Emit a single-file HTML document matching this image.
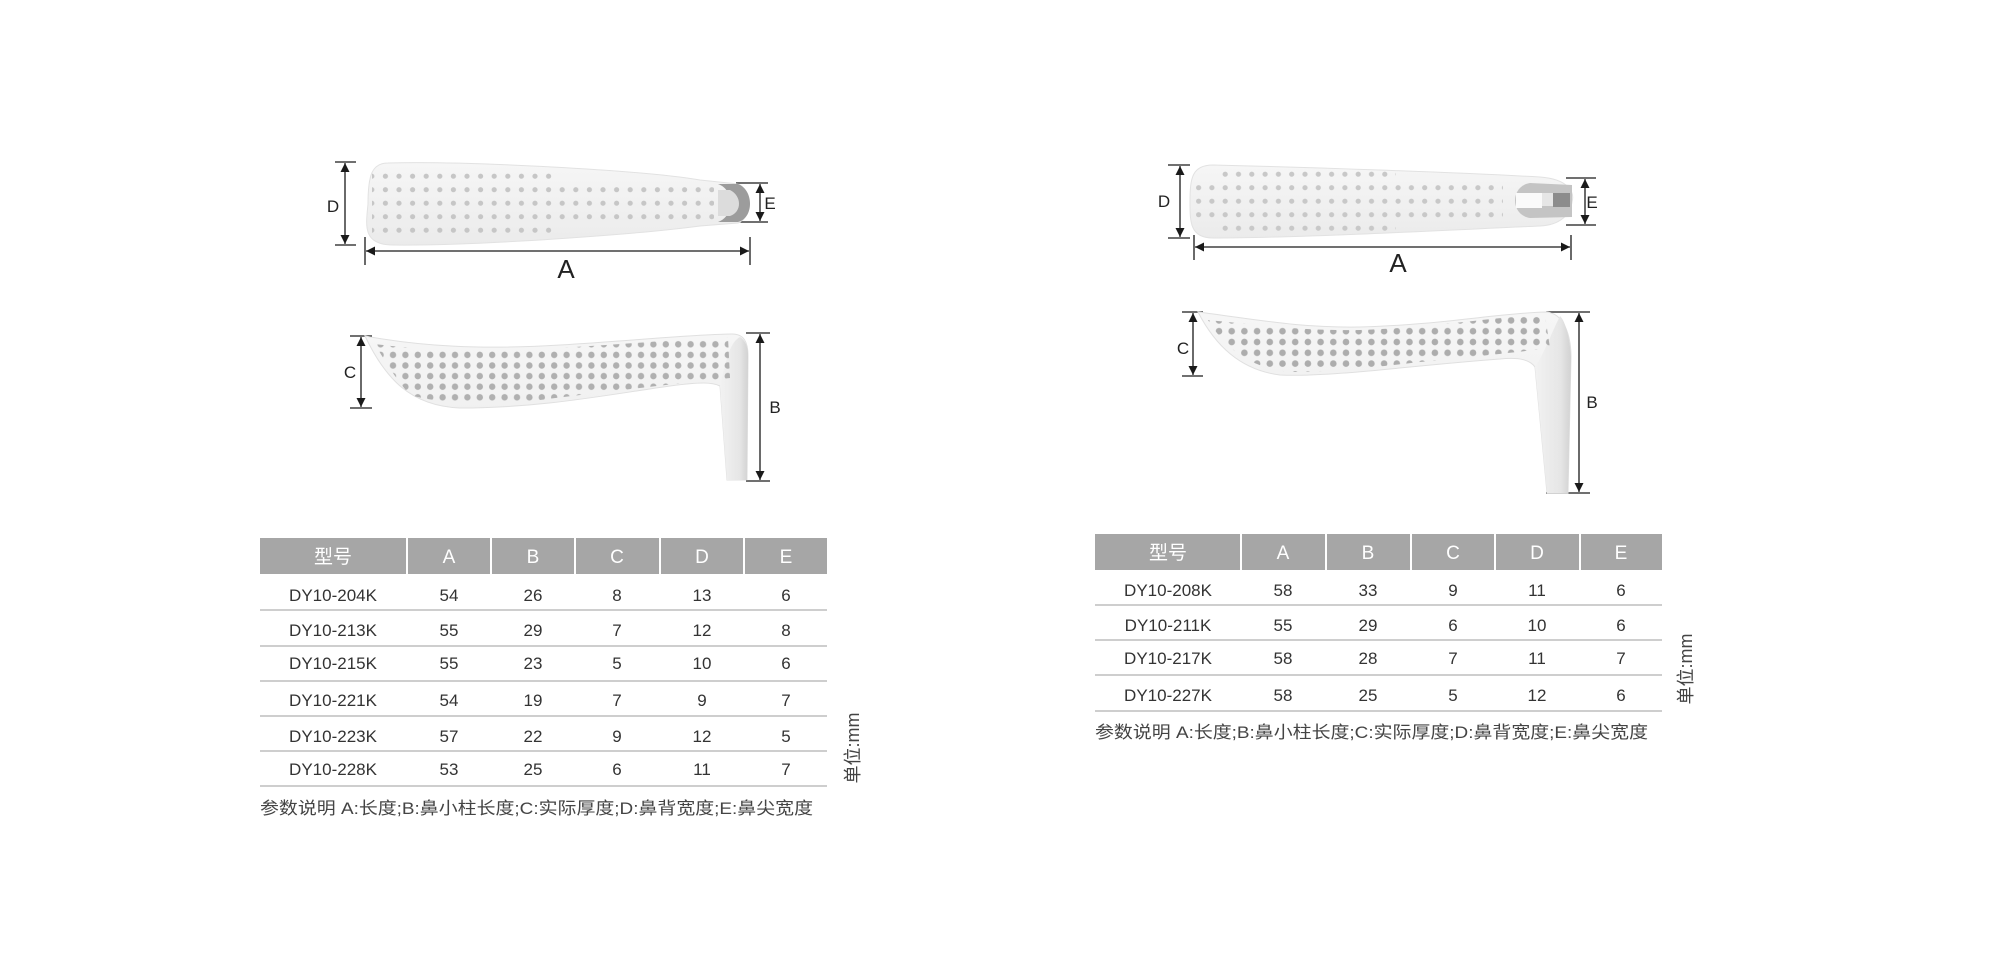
<!DOCTYPE html>
<html><head><meta charset="utf-8"><style>
html,body{margin:0;padding:0;background:#fff;}
svg{display:block;}
text{font-family:"Liberation Sans","Noto Sans CJK SC",sans-serif;}
</style></head><body>
<svg width="2000" height="960" viewBox="0 0 2000 960" xmlns="http://www.w3.org/2000/svg">
<defs>
<marker id="ah" viewBox="0 0 10 10" refX="10" refY="5" markerWidth="9" markerHeight="9" markerUnits="userSpaceOnUse" orient="auto-start-reverse"><path d="M0,0 L10,5 L0,10 z" fill="#1a1a1a"/></marker>
<linearGradient id="gb" x1="0" y1="0" x2="0" y2="1"><stop offset="0" stop-color="#f6f6f6"/><stop offset="1" stop-color="#ebebeb"/></linearGradient>
<linearGradient id="gl" x1="0" y1="0" x2="1" y2="0"><stop offset="0" stop-color="#f2f2f2"/><stop offset="0.7" stop-color="#e6e6e6"/><stop offset="1" stop-color="#d2d2d2"/></linearGradient>
<pattern id="pd" x="365" y="169.5" width="13.6" height="13.5" patternUnits="userSpaceOnUse"><circle cx="6.8" cy="6.7" r="2.6" fill="#c6c6c6"/></pattern>
<pattern id="pd2" x="1192" y="167.5" width="13.3" height="13.5" patternUnits="userSpaceOnUse"><circle cx="6.6" cy="6.7" r="2.6" fill="#c8c8c8"/></pattern>
<pattern id="ps" x="362" y="339" width="12.4" height="10.6" patternUnits="userSpaceOnUse"><circle cx="6.2" cy="5.3" r="3.2" fill="#b0b0b0"/></pattern>
<pattern id="ps2" x="1200" y="315" width="12.7" height="10.8" patternUnits="userSpaceOnUse"><circle cx="6.3" cy="5.4" r="3.3" fill="#adadad"/></pattern>
<clipPath id="c1"><rect x="372" y="170" width="182" height="67"/><rect x="554" y="183" width="160" height="41"/></clipPath>
<clipPath id="c2"><rect x="1216" y="168" width="180" height="67"/><rect x="1196" y="181" width="307" height="41"/></clipPath>
</defs>
<g stroke="#1a1a1a" stroke-width="1.3" fill="none">
<line x1="345" y1="163" x2="345" y2="244" marker-start="url(#ah)" marker-end="url(#ah)"/>
<line x1="335" y1="162" x2="356" y2="162"/><line x1="335" y1="245" x2="356" y2="245"/>
<line x1="366" y1="251" x2="749" y2="251" marker-start="url(#ah)" marker-end="url(#ah)"/>
<line x1="365" y1="237" x2="365" y2="265"/><line x1="750" y1="237" x2="750" y2="265"/>
<line x1="760" y1="184" x2="760" y2="221" marker-start="url(#ah)" marker-end="url(#ah)"/>
<line x1="736" y1="183" x2="768" y2="183"/><line x1="736" y1="222" x2="768" y2="222"/>
<line x1="361" y1="337" x2="361" y2="407" marker-start="url(#ah)" marker-end="url(#ah)"/>
<line x1="350" y1="336" x2="372" y2="336"/><line x1="350" y1="408" x2="372" y2="408"/>
<line x1="760" y1="334" x2="760" y2="480" marker-start="url(#ah)" marker-end="url(#ah)"/>
<line x1="746" y1="333" x2="770" y2="333"/><line x1="746" y1="481" x2="770" y2="481"/>
<line x1="1180" y1="166" x2="1180" y2="237" marker-start="url(#ah)" marker-end="url(#ah)"/>
<line x1="1168" y1="165" x2="1190" y2="165"/><line x1="1168" y1="238" x2="1190" y2="238"/>
<line x1="1195" y1="247" x2="1570" y2="247" marker-start="url(#ah)" marker-end="url(#ah)"/>
<line x1="1194" y1="235" x2="1194" y2="260"/><line x1="1571" y1="235" x2="1571" y2="260"/>
<line x1="1585" y1="179" x2="1585" y2="224" marker-start="url(#ah)" marker-end="url(#ah)"/>
<line x1="1566" y1="178" x2="1596" y2="178"/><line x1="1566" y1="225" x2="1596" y2="225"/>
<line x1="1193" y1="313" x2="1193" y2="375" marker-start="url(#ah)" marker-end="url(#ah)"/>
<line x1="1182" y1="312" x2="1203" y2="312"/><line x1="1182" y1="376" x2="1203" y2="376"/>
<line x1="1579" y1="313" x2="1579" y2="492" marker-start="url(#ah)" marker-end="url(#ah)"/>
<line x1="1546" y1="312" x2="1590" y2="312"/><line x1="1546" y1="493" x2="1590" y2="493"/>
</g>
<g fill="#222" font-size="17">
<text x="333" y="212" text-anchor="middle">D</text>
<text x="770" y="209" text-anchor="middle">E</text>
<text x="566" y="278" text-anchor="middle" font-size="26">A</text>
<text x="350" y="378" text-anchor="middle">C</text>
<text x="775" y="413" text-anchor="middle">B</text>
<text x="1164" y="207" text-anchor="middle">D</text>
<text x="1592" y="208" text-anchor="middle">E</text>
<text x="1398" y="272" text-anchor="middle" font-size="26">A</text>
<text x="1183" y="354" text-anchor="middle">C</text>
<text x="1592" y="408" text-anchor="middle">B</text>
</g>
<!-- left top shape -->
<path d="M388,163 C470,161 640,170 700,180 L738,184 C752,190 752,218 738,223 L700,226 C640,234 480,246 393,245 C362,245 366,225 368,204 C368,175 372,163 388,163 Z" fill="url(#gb)" stroke="#e2e2e2"/>
<rect x="365" y="165" width="360" height="80" fill="url(#pd)" clip-path="url(#c1)"/>
<path d="M718,184 L738,184 C754,190 754,218 738,222 L718,222 C735,216 735,190 718,184 Z" fill="#9c9c9c"/>
<path d="M718,190 L730,190 C742,196 742,212 730,216 L718,216 Z" fill="#dcdcdc"/>
<!-- left side shape -->
<path d="M365,336 C420,346 480,350 560,345 C640,340 700,334 732,334 C744,334 748,342 748,356 L747,480 L727,480 L720,386 C712,382 700,382 670,386 C600,396 540,408 460,408 C410,406 385,378 365,336 Z" fill="url(#gb)" stroke="#e0e0e0"/>
<path d="M720,386 L727,480 L747,480 L748,356 C748,346 745,340 740,337 C730,342 726,360 720,386 Z" fill="url(#gl)"/>
<path d="M375,344 C420,350 480,352 560,348 C640,343 700,338 728,337 L730,378 C700,381 620,390 540,400 C490,405 440,404 410,395 C395,378 384,360 375,344 Z" fill="url(#ps)"/>
<!-- right top shape -->
<path d="M1213,165 C1300,167 1450,172 1540,177 C1568,179 1575,192 1572,202 C1570,215 1560,225 1540,226 C1450,230 1300,238 1213,238 C1190,238 1190,222 1190,202 C1190,178 1192,165 1213,165 Z" fill="url(#gb)" stroke="#e2e2e2"/>
<rect x="1190" y="165" width="320" height="75" fill="url(#pd2)" clip-path="url(#c2)"/>
<path d="M1530,183 L1572,185 L1572,217 L1530,218 C1510,215 1510,186 1530,183 Z" fill="#c4c4c4"/>
<rect x="1516" y="193" width="26" height="15" fill="#fafafa"/>
<rect x="1542" y="193" width="11" height="13" fill="#e6e6e6"/>
<rect x="1553" y="193" width="17" height="14" fill="#8c8c8c"/>
<!-- right side shape -->
<path d="M1198,312 C1260,320 1300,328 1360,327 C1440,325 1500,313 1546,312 C1565,313 1571,338 1571,357 L1568,493 L1547,493 L1535,367 C1530,360 1520,357 1500,359 C1460,362 1420,366 1390,369 C1340,374 1300,376 1280,375 C1240,370 1215,345 1198,312 Z" fill="url(#gb)" stroke="#e0e0e0"/>
<path d="M1535,367 L1547,493 L1568,493 L1571,357 C1570,340 1566,322 1560,316 C1550,336 1545,352 1535,367 Z" fill="url(#gl)"/>
<path d="M1208,320 C1260,325 1300,331 1360,330 C1440,327 1500,316 1545,315 L1550,348 C1520,352 1470,357 1420,362 C1360,369 1320,372 1290,372 C1250,368 1225,348 1208,320 Z" fill="url(#ps2)"/>
<!-- left table -->
<rect x="260" y="538" width="567" height="36" fill="#a6a6a6"/>
<g stroke="#fff" stroke-width="2"><line x1="407" y1="538" x2="407" y2="574"/><line x1="491" y1="538" x2="491" y2="574"/><line x1="575" y1="538" x2="575" y2="574"/><line x1="660" y1="538" x2="660" y2="574"/><line x1="744" y1="538" x2="744" y2="574"/></g>
<g stroke="#bdbdbd" stroke-width="1.5"><line x1="260" y1="610" x2="827" y2="610"/><line x1="260" y1="646" x2="827" y2="646"/><line x1="260" y1="681" x2="827" y2="681"/><line x1="260" y1="716" x2="827" y2="716"/><line x1="260" y1="751" x2="827" y2="751"/><line x1="260" y1="786" x2="827" y2="786"/></g>
<g fill="#fff" font-size="19" text-anchor="middle"><text x="333" y="563">型号</text><text x="449" y="563">A</text><text x="533" y="563">B</text><text x="617" y="563">C</text><text x="702" y="563">D</text><text x="786" y="563">E</text></g>
<g fill="#333" font-size="17" text-anchor="middle">
<text x="333" y="601">DY10-204K</text><text x="449" y="601">54</text><text x="533" y="601">26</text><text x="617" y="601">8</text><text x="702" y="601">13</text><text x="786" y="601">6</text>
<text x="333" y="636">DY10-213K</text><text x="449" y="636">55</text><text x="533" y="636">29</text><text x="617" y="636">7</text><text x="702" y="636">12</text><text x="786" y="636">8</text>
<text x="333" y="669">DY10-215K</text><text x="449" y="669">55</text><text x="533" y="669">23</text><text x="617" y="669">5</text><text x="702" y="669">10</text><text x="786" y="669">6</text>
<text x="333" y="706">DY10-221K</text><text x="449" y="706">54</text><text x="533" y="706">19</text><text x="617" y="706">7</text><text x="702" y="706">9</text><text x="786" y="706">7</text>
<text x="333" y="742">DY10-223K</text><text x="449" y="742">57</text><text x="533" y="742">22</text><text x="617" y="742">9</text><text x="702" y="742">12</text><text x="786" y="742">5</text>
<text x="333" y="775">DY10-228K</text><text x="449" y="775">53</text><text x="533" y="775">25</text><text x="617" y="775">6</text><text x="702" y="775">11</text><text x="786" y="775">7</text>
</g>
<text x="260" y="814" fill="#444" font-size="17" textLength="553" lengthAdjust="spacingAndGlyphs">参数说明 A:长度;B:鼻小柱长度;C:实际厚度;D:鼻背宽度;E:鼻尖宽度</text>
<text transform="translate(859,748) rotate(-90)" fill="#444" font-size="18" text-anchor="middle">单位:mm</text>
<!-- right table -->
<rect x="1095" y="534" width="567" height="36" fill="#a6a6a6"/>
<g stroke="#fff" stroke-width="2"><line x1="1241" y1="534" x2="1241" y2="570"/><line x1="1326" y1="534" x2="1326" y2="570"/><line x1="1411" y1="534" x2="1411" y2="570"/><line x1="1495" y1="534" x2="1495" y2="570"/><line x1="1580" y1="534" x2="1580" y2="570"/></g>
<g stroke="#bdbdbd" stroke-width="1.5"><line x1="1095" y1="605" x2="1662" y2="605"/><line x1="1095" y1="640" x2="1662" y2="640"/><line x1="1095" y1="675" x2="1662" y2="675"/><line x1="1095" y1="711" x2="1662" y2="711"/></g>
<g fill="#fff" font-size="19" text-anchor="middle"><text x="1168" y="559">型号</text><text x="1283" y="559">A</text><text x="1368" y="559">B</text><text x="1453" y="559">C</text><text x="1537" y="559">D</text><text x="1621" y="559">E</text></g>
<g fill="#333" font-size="17" text-anchor="middle">
<text x="1168" y="596">DY10-208K</text><text x="1283" y="596">58</text><text x="1368" y="596">33</text><text x="1453" y="596">9</text><text x="1537" y="596">11</text><text x="1621" y="596">6</text>
<text x="1168" y="631">DY10-211K</text><text x="1283" y="631">55</text><text x="1368" y="631">29</text><text x="1453" y="631">6</text><text x="1537" y="631">10</text><text x="1621" y="631">6</text>
<text x="1168" y="664">DY10-217K</text><text x="1283" y="664">58</text><text x="1368" y="664">28</text><text x="1453" y="664">7</text><text x="1537" y="664">11</text><text x="1621" y="664">7</text>
<text x="1168" y="701">DY10-227K</text><text x="1283" y="701">58</text><text x="1368" y="701">25</text><text x="1453" y="701">5</text><text x="1537" y="701">12</text><text x="1621" y="701">6</text>
</g>
<text x="1095" y="738" fill="#444" font-size="17" textLength="553" lengthAdjust="spacingAndGlyphs">参数说明 A:长度;B:鼻小柱长度;C:实际厚度;D:鼻背宽度;E:鼻尖宽度</text>
<text transform="translate(1692,669) rotate(-90)" fill="#444" font-size="18" text-anchor="middle">单位:mm</text>
</svg>
</body></html>
